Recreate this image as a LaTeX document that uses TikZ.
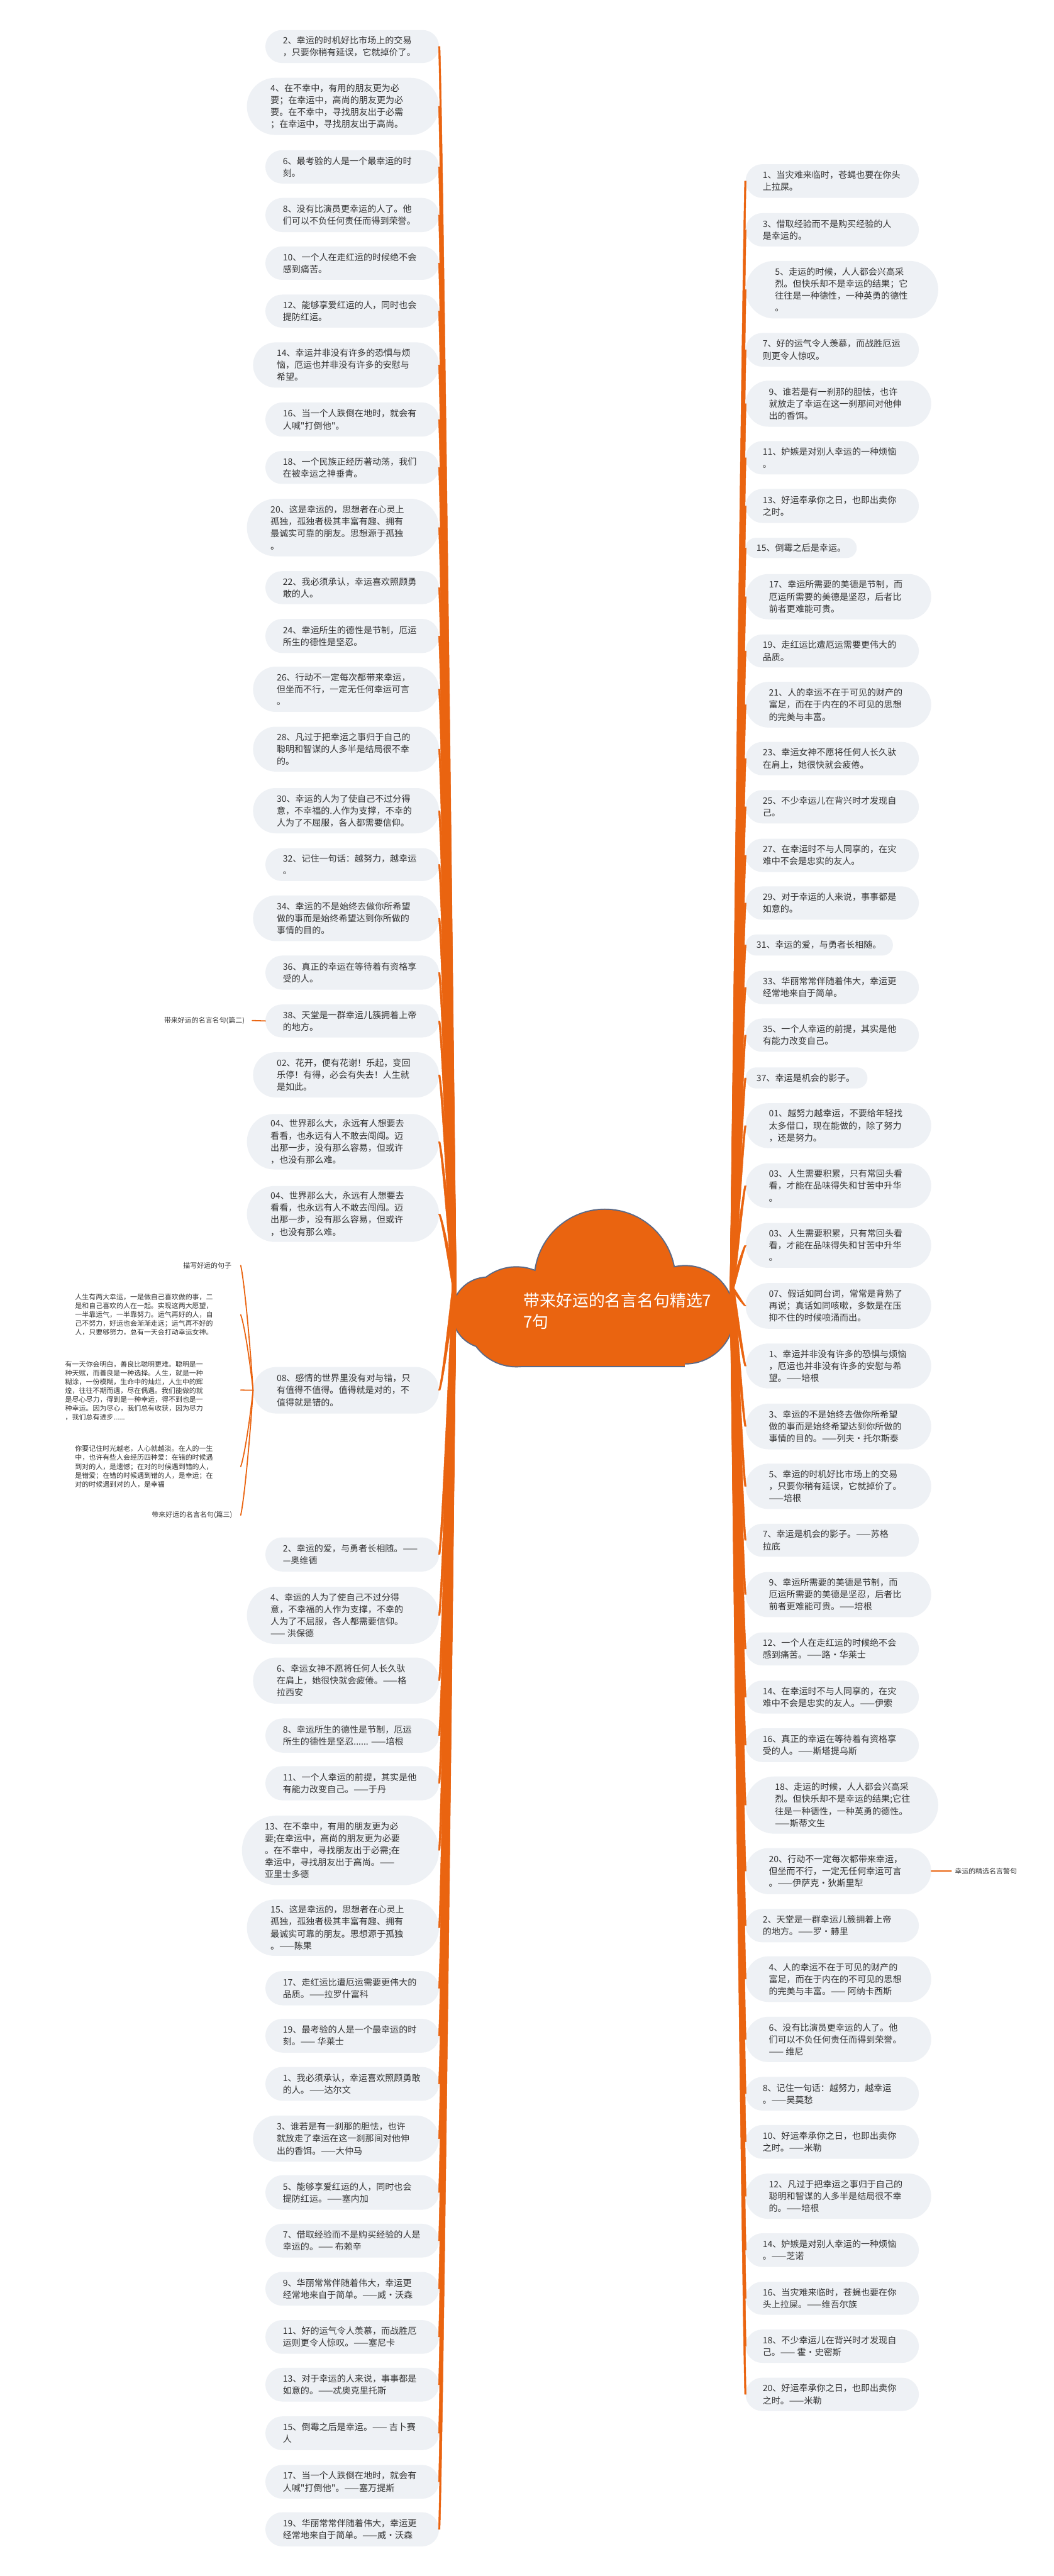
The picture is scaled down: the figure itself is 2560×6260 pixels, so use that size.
\documentclass[tikz,border=0pt]{standalone}
\usepackage{fontspec}
\newfontfamily\cjk{Noto Sans CJK SC}
\usetikzlibrary{calc}
\definecolor{org}{RGB}{234,100,16}
\definecolor{boxc}{RGB}{238,241,245}
\definecolor{txtc}{RGB}{51,51,51}
\definecolor{cloudline}{RGB}{90,105,135}
\tikzset{
 pill/.style={rectangle, fill=boxc, inner sep=0pt, outer sep=0pt},
 txt/.style={font=\cjk\fontsize{8.6}{11.7}\selectfont, text=txtc, align=left, inner sep=0pt},
 small/.style={font=\cjk\fontsize{6.7}{8.6}\selectfont, text=txtc, align=left, inner sep=0pt},
 conn/.style={fill=org, draw=org, line width=0.3pt},
 thinconn/.style={draw=org, line width=1.1pt, line cap=round},
 rootfont/.style={font=\cjk\fontsize{15.8}{21}\selectfont, text=white, align=left, inner sep=0pt}
}
% left node: name, box left, top, bottom, text x, text
\newcommand\LN[6]{%
 \pgfmathsetmacro\myW{(1067-#2)*0.4}%
 \pgfmathsetmacro\myH{(#4-#3)*0.4}%
 \pgfmathsetmacro\myR{(#4-#3)*0.2}%
 \pgfmathsetmacro\myC{(#3+#4)/2}%
 \pgfmathsetmacro\myA{3127+(\myC-3127)*0.45}%
 \pgfmathsetmacro\myB{\myC-(\myC-3127)*0.06}%
 \node[pill, rounded corners=\myR pt, minimum width=\myW pt, minimum height=\myH pt, anchor=east] (#1) at (1067,\myC) {};
 \node[txt, anchor=west] (#1t) at (#5,\myC) {#6};
 \path[conn] ($(rootL)+(-5,0)$) .. controls (1086,\myA) and (1072,\myB) .. ($(#1.east)+(-1.5,0)$)
   -- ($(#1.east)+(2.5,0)$) .. controls (1076,\myB) and (1094,\myA) .. ($(rootL)+(5,0)$) -- cycle;
}
% right node: name, box right, top, bottom, text x, text
\newcommand\RN[6]{%
 \pgfmathsetmacro\myW{(#2-1812)*0.4}%
 \pgfmathsetmacro\myH{(#4-#3)*0.4}%
 \pgfmathsetmacro\myR{(#4-#3)*0.2}%
 \pgfmathsetmacro\myC{(#3+#4)/2}%
 \pgfmathsetmacro\myA{3130+(\myC-3130)*0.45}%
 \pgfmathsetmacro\myB{\myC-(\myC-3130)*0.06}%
 \node[pill, rounded corners=\myR pt, minimum width=\myW pt, minimum height=\myH pt, anchor=west] (#1) at (1812,\myC) {};
 \node[txt, anchor=west] (#1t) at (#5,\myC) {#6};
 \path[conn] ($(rootR)+(-5,0)$) .. controls (1789,\myA) and (1805,\myB) .. ($(#1.west)+(-2.5,0)$)
   -- ($(#1.west)+(1.5,0)$) .. controls (1809,\myB) and (1797,\myA) .. ($(rootR)+(5,0)$) -- cycle;
}
\begin{document}
\begin{tikzpicture}[x=0.4pt,y=-0.4pt]
\useasboundingbox (0,0) rectangle (2560,6260);
\fill[white] (0,0) rectangle (2560,6260);

% cloud
\foreach \cx/\cy/\r in {1470/3110/170, 1255/3200/120, 1665/3195/118, 1185/3190/85}
  \fill[cloudline] (\cx,\cy) circle[radius=\r+3];
\fill[cloudline] (1250,3150) rectangle (1665,3323);
\foreach \cx/\cy/\r in {1470/3110/170, 1255/3200/120, 1665/3195/118, 1185/3190/85}
  \fill[org] (\cx,\cy) circle[radius=\r];
\fill[org] (1250,3150) rectangle (1665,3320);
\node[rootfont, anchor=west] (root) at (1272,3186) {带来好运的名言名句精选7\\7句};
\coordinate (rootL) at (1104,3127);
\coordinate (rootR) at (1779,3130);

% left column
\LN{n1}{645}{73}{153}{687}{2、幸运的时机好比市场上的交易\\，只要你稍有延误，它就掉价了。}
\LN{n2}{600}{189}{328}{657}{4、在不幸中，有用的朋友更为必\\要；在幸运中，高尚的朋友更为必\\要。在不幸中，寻找朋友出于必需\\；在幸运中，寻找朋友出于高尚。}
\LN{n3}{645}{365}{446}{687}{6、最考验的人是一个最幸运的时\\刻。}
\LN{n4}{645}{481}{564}{687}{8、没有比演员更幸运的人了。他\\们可以不负任何责任而得到荣誉。}
\LN{n5}{645}{599}{680}{687}{10、一个人在走红运的时候绝不会\\感到痛苦。}
\LN{n6}{645}{716}{796}{687}{12、能够享爱红运的人，同时也会\\提防红运。}
\LN{n7}{615}{832}{942}{672}{14、幸运并非没有许多的恐惧与烦\\恼，厄运也并非没有许多的安慰与\\希望。}
\LN{n8}{645}{978}{1061}{687}{16、当一个人跌倒在地时，就会有\\人喊"打倒他"。}
\LN{n9}{645}{1096}{1176}{687}{18、一个民族正经历著动荡，我们\\在被幸运之神垂青。}
\LN{n10}{600}{1212}{1352}{657}{20、这是幸运的，思想者在心灵上\\孤独，孤独者极其丰富有趣、拥有\\最诚实可靠的朋友。思想源于孤独\\。}
\LN{n11}{645}{1388}{1468}{687}{22、我必须承认，幸运喜欢照顾勇\\敢的人。}
\LN{n12}{645}{1504}{1587}{687}{24、幸运所生的德性是节制，厄运\\所生的德性是坚忍。}
\LN{n13}{615}{1620}{1730}{672}{26、行动不一定每次都带来幸运，\\但坐而不行，一定无任何幸运可言\\。}
\LN{n14}{615}{1766}{1875}{672}{28、凡过于把幸运之事归于自己的\\聪明和智谋的人多半是结局很不幸\\的。}
\LN{n15}{615}{1915}{2025}{672}{30、幸运的人为了使自己不过分得\\意，不幸福的.人作为支撑，不幸的\\人为了不屈服，各人都需要信仰。}
\LN{n16}{645}{2061}{2141}{687}{32、记住一句话：越努力，越幸运\\。}
\LN{n17}{615}{2176}{2287}{672}{34、幸运的不是始终去做你所希望\\做的事而是始终希望达到你所做的\\事情的目的。}
\LN{n18}{645}{2322}{2405}{687}{36、真正的幸运在等待着有资格享\\受的人。}
\LN{n19}{645}{2441}{2521}{687}{38、天堂是一群幸运儿簇拥着上帝\\的地方。}
\LN{n20}{615}{2557}{2667}{672}{02、花开，便有花谢！乐起，变回\\乐停！有得，必会有失去！人生就\\是如此。}
\LN{n21}{600}{2707}{2842}{657}{04、世界那么大，永远有人想要去\\看看，也永远有人不敢去闯闯。迈\\出那一步，没有那么容易，但或许\\，也没有那么难。}
\LN{n22}{600}{2882}{3018}{657}{04、世界那么大，永远有人想要去\\看看，也永远有人不敢去闯闯。迈\\出那一步，没有那么容易，但或许\\，也没有那么难。}
\LN{n23}{615}{3322}{3435}{672}{08、感情的世界里没有对与错，只\\有值得不值得。值得就是对的，不\\值得就是错的。}
\LN{n24}{645}{3736}{3819}{687}{2、幸运的爱，与勇者长相随。——\\—奥维德}
\LN{n25}{600}{3856}{3995}{657}{4、幸运的人为了使自己不过分得\\意，不幸福的人作为支撑，不幸的\\人为了不屈服，各人都需要信仰。\\—— 洪保德}
\LN{n26}{615}{4028}{4140}{672}{6、幸运女神不愿将任何人长久驮\\在肩上，她很快就会疲倦。——格\\拉西安}
\LN{n27}{645}{4176}{4259}{687}{8、幸运所生的德性是节制，厄运\\所生的德性是坚忍...... ——培根}
\LN{n28}{645}{4292}{4375}{687}{11、一个人幸运的前提，其实是他\\有能力改变自己。——于丹}
\LN{n29}{588}{4412}{4581}{643}{13、在不幸中，有用的朋友更为必\\要;在幸运中，高尚的朋友更为必要\\。在不幸中，寻找朋友出于必需;在\\幸运中，寻找朋友出于高尚。——\\亚里士多德}
\LN{n30}{600}{4616}{4753}{657}{15、这是幸运的，思想者在心灵上\\孤独，孤独者极其丰富有趣、拥有\\最诚实可靠的朋友。思想源于孤独\\。——陈果}
\LN{n31}{645}{4790}{4873}{687}{17、走红运比遭厄运需要更伟大的\\品质。——拉罗什富科}
\LN{n32}{645}{4906}{4988}{687}{19、最考验的人是一个最幸运的时\\刻。—— 华莱士}
\LN{n33}{645}{5023}{5105}{687}{1、我必须承认，幸运喜欢照顾勇敢\\的人。——达尔文}
\LN{n34}{615}{5141}{5253}{672}{3、谁若是有一刹那的胆怯，也许\\就放走了幸运在这一刹那间对他伸\\出的香饵。——大仲马}
\LN{n35}{645}{5286}{5370}{687}{5、能够享爱红运的人，同时也会\\提防红运。——塞内加}
\LN{n36}{645}{5404}{5486}{687}{7、借取经验而不是购买经验的人是\\幸运的。—— 布赖辛}
\LN{n37}{645}{5521}{5603}{687}{9、华丽常常伴随着伟大，幸运更\\经常地来自于简单。——威·沃森}
\LN{n38}{645}{5638}{5720}{687}{11、好的运气令人羡慕，而战胜厄\\运则更令人惊叹。——塞尼卡}
\LN{n39}{645}{5754}{5836}{687}{13、对于幸运的人来说，事事都是\\如意的。——忒奥克里托斯}
\LN{n40}{645}{5872}{5954}{687}{15、倒霉之后是幸运。—— 吉卜赛\\人}
\LN{n41}{645}{5990}{6072}{687}{17、当一个人跌倒在地时，就会有\\人喊"打倒他"。——塞万提斯}
\LN{n42}{645}{6105}{6188}{687}{19、华丽常常伴随着伟大，幸运更\\经常地来自于简单。——威·沃森}

% right column
\RN{r1}{2233}{399}{481}{1853}{1、当灾难来临时，苍蝇也要在你头\\上拉屎。}
\RN{r2}{2233}{518}{599}{1853}{3、借取经验而不是购买经验的人\\是幸运的。}
\RN{r3}{2280}{634}{774}{1883}{5、走运的时候，人人都会兴高采\\烈。但快乐却不是幸运的结果；它\\往往是一种德性，一种英勇的德性\\。}
\RN{r4}{2233}{809}{891}{1853}{7、好的运气令人羡慕，而战胜厄运\\则更令人惊叹。}
\RN{r5}{2263}{925}{1037}{1868}{9、谁若是有一刹那的胆怯，也许\\就放走了幸运在这一刹那间对他伸\\出的香饵。}
\RN{r6}{2233}{1072}{1153}{1853}{11、妒嫉是对别人幸运的一种烦恼\\。}
\RN{r7}{2233}{1188}{1271}{1853}{13、好运奉承你之日，也即出卖你\\之时。}
\RN{r8}{2082}{1307}{1356}{1838}{15、倒霉之后是幸运。}
\RN{r9}{2263}{1395}{1505}{1868}{17、幸运所需要的美德是节制，而\\厄运所需要的美德是坚忍，后者比\\前者更难能可贵。}
\RN{r10}{2233}{1542}{1622}{1853}{19、走红运比遭厄运需要更伟大的\\品质。}
\RN{r11}{2263}{1657}{1768}{1868}{21、人的幸运不在于可见的财产的\\富足，而在于内在的不可见的思想\\的完美与丰富。}
\RN{r12}{2233}{1803}{1884}{1853}{23、幸运女神不愿将任何人长久驮\\在肩上，她很快就会疲倦。}
\RN{r13}{2233}{1920}{2001}{1853}{25、不少幸运儿在背兴时才发现自\\己。}
\RN{r14}{2233}{2038}{2119}{1853}{27、在幸运时不与人同享的，在灾\\难中不会是忠实的友人。}
\RN{r15}{2233}{2154}{2235}{1853}{29、对于幸运的人来说，事事都是\\如意的。}
\RN{r16}{2170}{2271}{2322}{1838}{31、幸运的爱，与勇者长相随。}
\RN{r17}{2233}{2359}{2440}{1853}{33、华丽常常伴随着伟大，幸运更\\经常地来自于简单。}
\RN{r18}{2233}{2475}{2556}{1853}{35、一个人幸运的前提，其实是他\\有能力改变自己。}
\RN{r19}{2108}{2594}{2645}{1838}{37、幸运是机会的影子。}
\RN{r20}{2263}{2681}{2790}{1868}{01、越努力越幸运，不要给年轻找\\太多借口，现在能做的，除了努力\\，还是努力。}
\RN{r21}{2263}{2827}{2936}{1868}{03、人生需要积累，只有常回头看\\看，才能在品味得失和甘苦中升华\\。}
\RN{r22}{2263}{2972}{3081}{1868}{03、人生需要积累，只有常回头看\\看，才能在品味得失和甘苦中升华\\。}
\RN{r23}{2263}{3118}{3229}{1868}{07、假话如同台词，常常是背熟了\\再说；真话如同咳嗽，多数是在压\\抑不住的时候喷涌而出。}
\RN{r24}{2263}{3265}{3374}{1868}{1、幸运并非没有许多的恐惧与烦恼\\，厄运也并非没有许多的安慰与希\\望。——培根}
\RN{r25}{2263}{3411}{3522}{1868}{3、幸运的不是始终去做你所希望\\做的事而是始终希望达到你所做的\\事情的目的。——列夫·托尔斯泰}
\RN{r26}{2263}{3557}{3667}{1868}{5、幸运的时机好比市场上的交易\\，只要你稍有延误，它就掉价了。\\——培根}
\RN{r27}{2233}{3703}{3783}{1853}{7、幸运是机会的影子。——苏格\\拉底}
\RN{r28}{2263}{3820}{3930}{1868}{9、幸运所需要的美德是节制，而\\厄运所需要的美德是坚忍，后者比\\前者更难能可贵。——培根}
\RN{r29}{2233}{3967}{4047}{1853}{12、一个人在走红运的时候绝不会\\感到痛苦。——路·华莱士}
\RN{r30}{2233}{4084}{4164}{1853}{14、在幸运时不与人同享的，在灾\\难中不会是忠实的友人。——伊索}
\RN{r31}{2233}{4200}{4282}{1853}{16、真正的幸运在等待着有资格享\\受的人。——斯塔提乌斯}
\RN{r32}{2280}{4317}{4456}{1883}{18、走运的时候，人人都会兴高采\\烈。但快乐却不是幸运的结果;它往\\往是一种德性，一种英勇的德性。\\——斯蒂文生}
\RN{r33}{2263}{4491}{4603}{1868}{20、行动不一定每次都带来幸运，\\但坐而不行，一定无任何幸运可言\\。——伊萨克·狄斯里犁}
\RN{r34}{2233}{4639}{4720}{1853}{2、天堂是一群幸运儿簇拥着上帝\\的地方。——罗·赫里}
\RN{r35}{2263}{4754}{4865}{1868}{4、人的幸运不在于可见的财产的\\富足，而在于内在的不可见的思想\\的完美与丰富。—— 阿纳卡西斯}
\RN{r36}{2263}{4901}{5011}{1868}{6、没有比演员更幸运的人了。他\\们可以不负任何责任而得到荣誉。\\—— 维尼}
\RN{r37}{2233}{5047}{5129}{1853}{8、记住一句话：越努力，越幸运\\。——吴莫愁}
\RN{r38}{2233}{5164}{5246}{1853}{10、好运奉承你之日，也即出卖你\\之时。——米勒}
\RN{r39}{2263}{5282}{5392}{1868}{12、凡过于把幸运之事归于自己的\\聪明和智谋的人多半是结局很不幸\\的。——培根}
\RN{r40}{2233}{5427}{5509}{1853}{14、妒嫉是对别人幸运的一种烦恼\\。——芝诺}
\RN{r41}{2233}{5545}{5625}{1853}{16、当灾难来临时，苍蝇也要在你\\头上拉屎。——维吾尔族}
\RN{r42}{2233}{5661}{5742}{1853}{18、不少幸运儿在背兴时才发现自\\己。—— 霍·史密斯}
\RN{r43}{2233}{5778}{5859}{1853}{20、好运奉承你之日，也即出卖你\\之时。——米勒}

% side labels
\node[small, anchor=east] (p2) at (595,2480) {带来好运的名言名句(篇二)};
\draw[thinconn] ($(p2.east)+(18,0)$) -- (n19.west);
\node[small, anchor=west] (jx) at (2320,4547) {幸运的精选名言警句};
\draw[thinconn] (r33.east) -- ($(jx.west)+(-8,0)$);

% sub-branch of node 08
\node[small, anchor=east] (d0) at (563,3075) {描写好运的句子};
\node[small, anchor=west] (dA) at (182,3195) {人生有两大幸运，一是做自己喜欢做的事，二\\是和自己喜欢的人在一起。实现这两大愿望，\\一半靠运气，一半靠努力。运气再好的人，自\\己不努力，好运也会渐渐走远；运气再不好的\\人，只要够努力，总有一天会打动幸运女神。};
\node[small, anchor=west] (dB) at (158,3380) {有一天你会明白，善良比聪明更难。聪明是一\\种天赋，而善良是一种选择。人生，就是一种\\糊涂，一份模糊，生命中的灿烂，人生中的辉\\煌，往往不期而遇，尽在偶遇。我们能做的就\\是尽心尽力，得到是一种幸运，得不到也是一\\种幸运。因为尽心，我们总有收获，因为尽力\\，我们总有进步......};
\node[small, anchor=west] (dC) at (182,3564) {你要记住时光越老，人心就越淡。在人的一生\\中，也许有些人会经历四种爱：在错的时候遇\\到对的人，是遗憾；在对的时候遇到错的人，\\是错爱；在错的时候遇到错的人，是幸运；在\\对的时候遇到对的人，是幸福};
\node[small, anchor=east] (p3) at (565,3682) {带来好运的名言名句(篇三)};
\coordinate (e0) at (585,3075);
\coordinate (eA) at (585,3195);
\coordinate (eB) at (585,3378);
\coordinate (eC) at (585,3564);
\coordinate (e3) at (585,3682);
\draw[thinconn] (n23.west) .. controls (605,3227) and (592,3105) .. (e0);
\draw[thinconn] (n23.west) .. controls (605,3287) and (592,3213) .. (eA);
\draw[thinconn] (n23.west) -- (eB);
\draw[thinconn] (n23.west) .. controls (605,3471) and (592,3545) .. (eC);
\draw[thinconn] (n23.west) .. controls (605,3530) and (592,3652) .. (e3);
\end{tikzpicture}
\end{document}
